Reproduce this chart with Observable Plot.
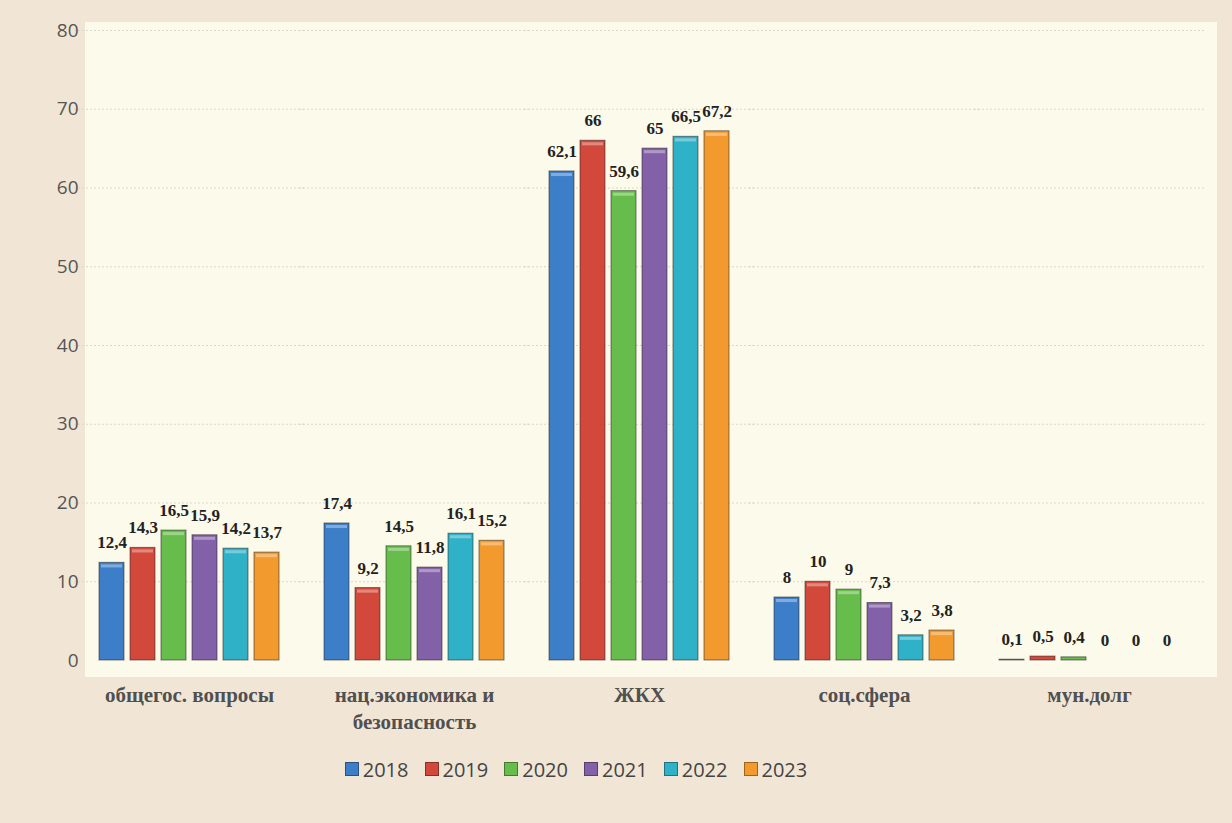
<!DOCTYPE html>
<html><head><meta charset="utf-8">
<script src="https://cdn.jsdelivr.net/npm/d3@7"></script>
<script src="https://cdn.jsdelivr.net/npm/@observablehq/plot@0.6"></script>
<style>
html,body{margin:0;padding:0;background:#f1e6d6;}
#wrap{width:1232px;height:823px;position:relative;background:#f1e6d6;}
#legend{position:absolute;left:-40px;width:1232px;top:755px;text-align:center;font-family:"Open Sans",Calibri,sans-serif;font-size:20px;color:#444;}
#legend span.item{margin:0 8px;display:inline-flex;align-items:center;}
#legend span.sw{display:inline-block;width:12px;height:12px;margin-right:4px;border:1px solid rgba(0,0,0,0.35);}
</style></head>
<body><div id="wrap"><div id="chart"></div><div id="legend"></div></div>
<script>
const categories = ["общегос. вопросы","нац.экономика и\nбезопасность","ЖКХ","соц.сфера","мун.долг"];
const years = ["2018","2019","2020","2021","2022","2023"];
const colors = ["#3d7ec8","#d2493b","#67bd4b","#8261a8","#2fb1c8","#f39a2e"];
const v2018 = [12.4,17.4,62.1,8,0.1];
const v2019 = [14.3,9.2,66,10,0.5];
const v2020 = [16.5,14.5,59.6,9,0.4];
const v2021 = [15.9,11.8,65,7.3,0];
const v2022 = [14.2,16.1,66.5,3.2,0];
const v2023 = [13.7,15.2,67.2,3.8,0];
const yTicks = [0,10,20,30,40,50,60,70,80];

const series = [v2018,v2019,v2020,v2021,v2022,v2023];
const data = [];
categories.forEach((c,i)=>years.forEach((y,j)=>data.push({cat:c,year:y,value:series[j][i]})));
const fmt = v => String(v).replace(".",",");

const chart = Plot.plot({
  width:1232, height:740,
  marginLeft:85, marginRight:40, marginTop:30, marginBottom:80,
  style:{fontFamily:"'Open Sans',sans-serif"},
  fx:{domain:categories, paddingInner:0.12, paddingOuter:0.02, label:null, axis:null},
  x:{domain:years, padding:0.2, axis:null},
  y:{domain:[0,80], ticks:yTicks, label:null, grid:false},
  color:{domain:years, range:colors},
  marks:[
    Plot.ruleY(yTicks.slice(1), {stroke:"#dcd8c8", strokeWidth:1, strokeDasharray:"2,2", insetLeft:-16, insetRight:-16}),
    Plot.axisY({ticks:yTicks, tickSize:0, tickPadding:12, fontSize:19, fill:"#555", label:null}),
    Plot.axisFx({domain:categories, anchor:"bottom", tickSize:0, tickPadding:22, fontSize:21, fontWeight:"bold", fontFamily:"'Liberation Serif','Times New Roman',serif", fill:"#505050", label:null, lineHeight:1.3}),
    Plot.barY(data,{fx:"cat", x:"year", y:"value", fill:"year", stroke:"#222", strokeOpacity:0.55, strokeWidth:1}),
    Plot.barY(data,{fx:"cat", x:"year", y1:d=>d.value, y2:d=>Math.max(0,d.value-0.9), fill:"white", fillOpacity:0.35, inset:2}),
    Plot.text(data,{fx:"cat", x:"year", y:"value", text:d=>fmt(d.value), dy:-20, fontSize:17, fontWeight:"bold", fontFamily:"'Liberation Serif','Times New Roman',serif", fill:"#222"})
  ]
});
chart.style.backgroundColor = "#f1e6d6";
chart.style.backgroundImage = "linear-gradient(#fcfaea,#fcfaea)";
chart.style.backgroundRepeat = "no-repeat";
chart.style.backgroundPosition = "85px 22px";
chart.style.backgroundSize = "1132px 655px";
chart.style.display = "block";
document.getElementById("chart").appendChild(chart);
const lg = document.getElementById("legend");
years.forEach((y,i)=>{
  const s=document.createElement("span");s.className="item";
  s.innerHTML=`<span class="sw" style="background:${colors[i]}"></span>${y}`;
  lg.appendChild(s);
});
</script></body></html>
